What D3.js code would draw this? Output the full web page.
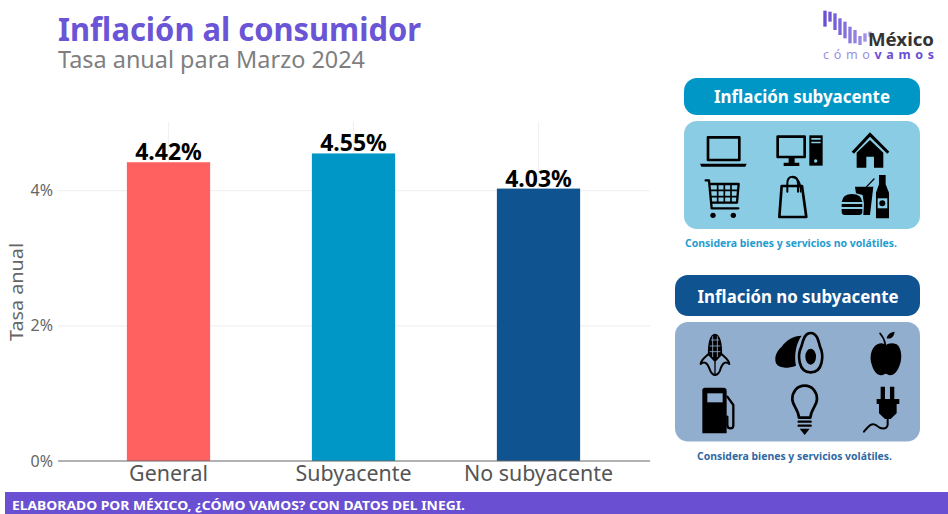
<!DOCTYPE html>
<html>
<head>
<meta charset="utf-8">
<script src="https://cdn.jsdelivr.net/npm/d3@7"></script>
<style>
  html, body { margin: 0; padding: 0; background: #fff; overflow: hidden; }
  text { font-family: "Noto Sans", sans-serif; }
</style>
</head>
<body>
<div id="chart"></div>
<script>
// Data
const categories = ["General", "Subyacente", "No subyacente"]
const values = [4.42, 4.55, 4.03]
const barColors = ["#ff6060", "#0097c7", "#0f5391"]
const yTicks = [0, 2, 4]

// Settings
const SIZE = [948, 514]
const PLOT = {top: 122, right: 650, bottom: 461, left: 58}
const PURPLE = "#6a4fd3"

const svg = d3.select("#chart").append("svg")
  .attr("width", SIZE[0])
  .attr("height", SIZE[1])
  .style("display", "block")

// text with its width forced to what the reference measures
function label(g, str, x, y, size, color, width, opts = {}) {
  return g.append("text")
    .attr("x", x)
    .attr("y", y)
    .attr("font-size", size)
    .attr("font-weight", opts.weight || 400)
    .attr("text-anchor", opts.anchor || "start")
    .attr("fill", color)
    .attr("textLength", width)
    .attr("lengthAdjust", "spacingAndGlyphs")
    .text(str)
}

// Titles
label(svg, "Inflación al consumidor", 58, 41, 33, "#6a55d6", 363, {weight: 700})
label(svg, "Tasa anual para Marzo 2024", 58, 68, 23, "#7f7f7f", 307)

// Chart
const x = d3.scaleBand()
  .domain(categories)
  .range([76, 631])
  .paddingInner(0.55)
  .paddingOuter(0.275)

const y = d3.scaleLinear()
  .domain([0, 5.015])
  .range([PLOT.bottom, PLOT.top])

svg.append("g")
  .attr("stroke", "#f1f1f1")
  .attr("stroke-width", 1.2)
  .call(g => g.selectAll("line.h")
    .data(yTicks.slice(1))
    .join("line")
      .attr("class", "h")
      .attr("x1", PLOT.left)
      .attr("x2", PLOT.right)
      .attr("y1", d => y(d))
      .attr("y2", d => y(d)))
  .call(g => g.selectAll("line.v")
    .data(categories)
    .join("line")
      .attr("class", "v")
      .attr("x1", d => x(d) + x.bandwidth() / 2)
      .attr("x2", d => x(d) + x.bandwidth() / 2)
      .attr("y1", PLOT.top)
      .attr("y2", PLOT.bottom))

svg.append("g")
  .selectAll("rect")
  .data(categories)
  .join("rect")
    .attr("x", d => x(d))
    .attr("y", (d, i) => y(values[i]))
    .attr("width", x.bandwidth())
    .attr("height", (d, i) => y(0) - y(values[i]))
    .attr("fill", (d, i) => barColors[i])

svg.append("g")
  .selectAll("text")
  .data(categories)
  .join("text")
    .attr("x", d => x(d) + x.bandwidth() / 2)
    .attr("y", (d, i) => y(values[i]) - 2)
    .attr("text-anchor", "middle")
    .attr("font-size", 23)
    .attr("font-weight", 700)
    .attr("fill", "#000")
    .text((d, i) => values[i].toFixed(2) + "%")

const yAxis = g => g
  .attr("transform", `translate(${PLOT.left},0)`)
  .call(d3.axisLeft(y).tickValues(yTicks).tickSize(0).tickPadding(5).tickFormat(d => d + "%"))
  .call(g => g.select(".domain").remove())
  .call(g => g.selectAll("text")
    .attr("font-size", 16)
    .attr("font-family", '"Noto Sans", sans-serif')
    .attr("fill", "#666"))

const xAxis = g => g
  .attr("transform", `translate(0,${PLOT.bottom})`)
  .call(d3.axisBottom(x).tickSize(0).tickPadding(5))
  .call(g => g.select(".domain").remove())
  .call(g => g.selectAll("text")
    .attr("font-size", 21.4)
    .attr("font-family", '"Noto Sans", sans-serif')
    .attr("fill", "#555"))

svg.append("g").call(yAxis)
svg.append("g").call(xAxis)

svg.append("line")
  .attr("x1", PLOT.left)
  .attr("x2", PLOT.right)
  .attr("y1", PLOT.bottom)
  .attr("y2", PLOT.bottom)
  .attr("stroke", "#666")
  .attr("stroke-width", 1.2)

label(svg, "Tasa anual", 0, 0, 18, "#666", 98, {anchor: "middle"})
  .attr("transform", "translate(23,292) rotate(-90)")

// Footer
svg.append("rect")
  .attr("x", 5)
  .attr("y", 492)
  .attr("width", SIZE[0] - 5)
  .attr("height", 22)
  .attr("fill", PURPLE)
label(svg, "ELABORADO POR MÉXICO, ¿CÓMO VAMOS? CON DATOS DEL INEGI.", 12, 510, 13, "#fff", 453, {weight: 700})

// Side boxes
function box(g, bx, by, w, h, color) {
  g.append("rect")
    .attr("x", bx).attr("y", by)
    .attr("width", w).attr("height", h)
    .attr("rx", 13)
    .attr("fill", color)
}

box(svg, 684, 78, 236, 37, "#0097c7")
box(svg, 684, 121, 236, 108, "#8accE3")
label(svg, "Inflación subyacente", 802, 103, 17, "#fff", 176, {weight: 700, anchor: "middle"})
label(svg, "Considera bienes y servicios no volátiles.", 685, 247, 10, "#1f9dcf", 212, {weight: 700})

box(svg, 675, 275, 245, 41, "#0f5391")
box(svg, 675, 322, 245, 119.5, "#92aece")
label(svg, "Inflación no subyacente", 798, 303, 18, "#fff", 201, {weight: 700, anchor: "middle"})
label(svg, "Considera bienes y servicios volátiles.", 697, 460, 10, "#2f69a3", 195, {weight: 700})

// Icons, in the 3x units of the crops they were measured on
const iconsTop = svg.append("g").attr("transform", "translate(670,0) scale(0.3333)")
const iconsBottom = svg.append("g").attr("transform", "translate(670,265) scale(0.3333)")

function fillPath(g, d, color = "#000") {
  g.append("path").attr("d", d).attr("fill", color)
}
function linePath(g, d, w, color = "#000") {
  g.append("path").attr("d", d).attr("fill", "none").attr("stroke", color)
    .attr("stroke-width", w).attr("stroke-linejoin", "round").attr("stroke-linecap", "round")
}

const LIGHT = "#8accE3"
const DARK = "#92aece"

// laptop
linePath(iconsTop, "M114,412H208V480H114Z", 8)
fillPath(iconsTop, "M90,491H230L226,500H94Z")
// desktop
linePath(iconsTop, "M323,410H404V471H323Z", 8)
fillPath(iconsTop, "M356,474H374V488H388V498H341V488H356Z")
fillPath(iconsTop, "M418,406H458V497H418Z")
fillPath(iconsTop, "M424,414H452V419H424ZM424,425H452V430H424Z", LIGHT)
iconsTop.append("circle").attr("cx", 437).attr("cy", 483).attr("r", 5).attr("fill", LIGHT)
// house
fillPath(iconsTop, "M600,397L658,455L652,461L600,410L552,461L545,455Z")
fillPath(iconsTop, "M600,420L640,458V503H612V470H589V503H560V458Z")
// cart
linePath(iconsTop, "M107,541H117L125,625H205", 7)
linePath(iconsTop, "M122,552H206L201,608H127", 7)
linePath(iconsTop, "M143,552V608M163,552V608M183,552V608M122,571H204M124,590H202", 5)
iconsTop.append("circle").attr("cx", 129).attr("cy", 646).attr("r", 8)
iconsTop.append("circle").attr("cx", 190).attr("cy", 646).attr("r", 8)
// shopping bag
linePath(iconsTop, "M335,558H396L409,651H328Z", 8)
linePath(iconsTop, "M352,575V550Q352,530 368,530Q384,530 384,552V575", 6)
linePath(iconsTop, "M368,532Q392,534 392,575", 5)
// burger, cup, bottle
fillPath(iconsTop, "M515,606Q518,582 546,582Q574,582 577,606Z")
fillPath(iconsTop, "M515,612H577V621H515Z")
fillPath(iconsTop, "M515,627H577V636Q577,645 567,645H525Q515,645 515,636Z")
fillPath(iconsTop, "M555,560H610L600,645H580L582,612L578,585L558,580Z")
linePath(iconsTop, "M590,560L612,537", 4)
fillPath(iconsTop, "M627,525H647V553L657,578V655H618V578L627,553Z")
fillPath(iconsTop, "M623,595H652V625H623Z", LIGHT)
iconsTop.append("circle").attr("cx", 637).attr("cy", 610).attr("r", 9).attr("fill", "#000")

// corn
fillPath(iconsBottom, "M135,206C150,206 158,235 156,270L135,292L114,270C112,235 120,206 135,206Z")
linePath(iconsBottom, "M124,225H146M120,243H150M120,260H150M128,215V275M142,215V275", 2.5, DARK)
linePath(iconsBottom, "M118,265C108,275 92,285 92,297C102,288 112,292 118,310C122,322 130,330 136,330C142,330 150,322 152,310C158,292 168,288 178,297C178,285 162,275 152,265", 6)
linePath(iconsBottom, "M135,292V328", 4)
// avocado
fillPath(iconsBottom, "M395,212C370,212 350,225 335,245C320,258 312,275 318,295C326,310 350,312 378,302C372,270 378,235 395,212Z")
linePath(iconsBottom, "M422,204C440,204 445,225 450,245C462,270 460,322 422,322C384,322 382,270 394,245C400,225 404,204 422,204Z", 8)
iconsBottom.append("ellipse").attr("cx", 422).attr("cy", 275).attr("rx", 16).attr("ry", 24).attr("fill", "#000")
// apple
fillPath(iconsBottom, "M622,238C635,232 642,236 648,240C655,236 665,232 680,238C695,248 697,280 690,298C684,318 672,332 660,331C654,330 652,326 648,326C644,326 640,330 634,331C622,332 610,318 605,298C598,280 602,248 622,238Z")
linePath(iconsBottom, "M646,238C644,225 636,212 630,205", 5)
fillPath(iconsBottom, "M650,220C652,208 662,202 674,200C672,214 664,224 650,220Z")
// fuel pump
fillPath(iconsBottom, "M105,368H160Q170,368 170,378V505H97V376Q97,368 105,368Z")
fillPath(iconsBottom, "M112,385H158V412H112Z", DARK)
linePath(iconsBottom, "M172,395L190,420V480Q190,490 182,490Q172,490 172,480V455", 7)
// light bulb
linePath(iconsBottom, "M404,362C380,362 367,382 367,402C367,422 385,432 387,458H421C423,432 441,422 441,402C441,382 428,362 404,362Z", 8)
linePath(iconsBottom, "M386,470H422M386,482H422", 7)
fillPath(iconsBottom, "M389,491H419L404,510Z")
// plug
fillPath(iconsBottom, "M632,365H645V402H632ZM660,365H673V402H660Z")
fillPath(iconsBottom, "M620,402H688V417H680V445L662,462H645L627,445V417H620Z")
linePath(iconsBottom, "M653,462V480C650,495 630,492 620,482C605,470 595,485 582,500", 6)

// Logo
const logoBars = [[32, 80], [35, 65], [40, 90], [55, 105], [65, 115], [80, 130], [90, 130], [108, 135], [100, 125], [95, 110]]
const logo = svg.append("g").attr("transform", "translate(670,0) scale(0.3333)")
const logoColor = d3.scaleLinear().domain([0, 9]).range(["#6a4fd3", "#a79ae6"])
logo.selectAll("rect")
  .data(logoBars)
  .join("rect")
    .attr("x", (d, i) => 460 + i * 15)
    .attr("y", d => d[0])
    .attr("width", 10)
    .attr("height", d => d[1] - d[0])
    .attr("fill", (d, i) => logoColor(i))

label(svg, "México", 868, 46, 18, "#333", 66, {weight: 700})
const logoText = svg.append("text")
  .attr("x", 823)
  .attr("y", 59)
  .attr("font-size", 12.5)
  .attr("textLength", 111)
logoText.append("tspan").attr("fill", "#9c8ee4").text("cómo")
logoText.append("tspan").attr("fill", PURPLE).attr("font-weight", 700).text("vamos")
</script>
</body>
</html>
